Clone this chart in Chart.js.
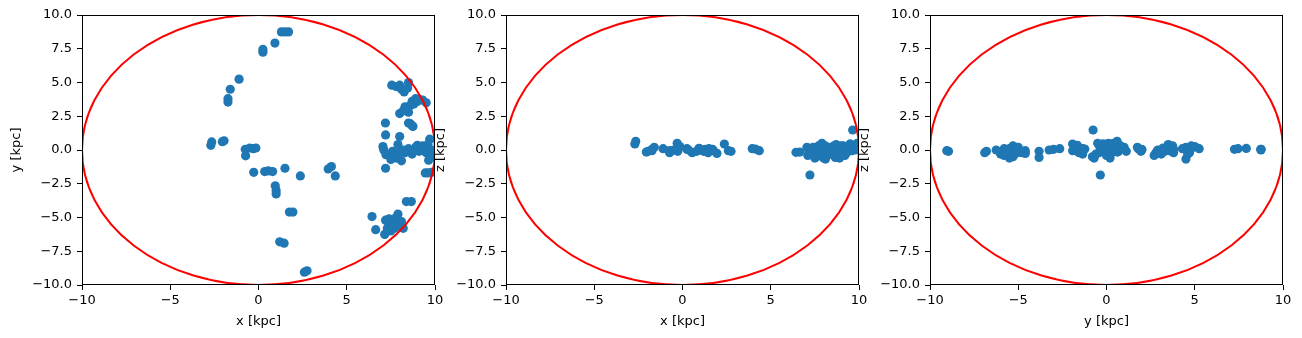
<!DOCTYPE html>
<html>
<head>
<meta charset="utf-8">
<script src="https://cdn.jsdelivr.net/npm/chart.js@4.4.0/dist/chart.umd.min.js"></script>
<style>
body { margin: 0; background: #fff; }
#fig { position: relative; width: 1302px; height: 338px; overflow: hidden; background: #fff; }
#fig canvas { position: absolute; top: 0; }
</style>
</head>
<body>
<div id="fig">
  <canvas id="c1" width="450" height="338" style="left:0px"></canvas>
  <canvas id="c2" width="456" height="338" style="left:424px"></canvas>
  <canvas id="c3" width="454" height="338" style="left:848px"></canvas>
</div>
<script>
// positions of the stars, kpc
var starX = [1.3, 1.5, 1.7, 0.93, 0.25, 0.25, -1.1, -1.6, -1.73, -1.73,
  -2.7, -2.65, -1.95, -2.05, -0.75, -0.5, -0.3, -0.15, -0.73, -0.27,
  0.35, 0.55, 0.8, 1.5, 2.37, 0.95, 1.0, 1.0, 1.75, 1.95,
  1.2, 1.45, 2.6, 2.75, 4.13, 3.95, 4.35, 6.43, 6.64, 7.2,
  7.4, 7.6, 7.8, 7.9, 8.0, 8.2, 7.5, 7.15, 7.7, 8.1,
  7.3, 8.38, 8.66, 7.19, 7.2, 8.0, 7.55, 7.8, 8.0, 8.1,
  8.25, 8.5, 8.45, 8.7, 8.9, 9.1, 9.5, 8.6, 8.0, 8.3,
  8.5, 8.5, 8.7, 7.05, 7.1, 7.22, 7.5, 7.7, 7.9, 8.1,
  8.3, 8.5, 8.7, 8.9, 9.1, 9.3, 9.5, 9.7, 9.8, 9.9,
  9.64, 9.2, 7.2, 9.45, 9.6, 9.8, 7.6,
  8.8, 9.3, 8.2, 8.4, 8.6, 8.75, 9.0, 8.2, 8.8, 9.4,
  9.6, 9.0, 7.8, 8.0, 7.6, 7.9, 7.4, 8.1];
var starY = [8.75, 8.75, 8.75, 7.92, 7.25, 7.45, 5.25, 4.5, 3.55, 3.8,
  0.35, 0.6, 0.68, 0.62, 0.05, 0.15, 0.1, 0.15, -0.43, -1.65,
  -1.6, -1.55, -1.6, -1.35, -1.92, -2.65, -3.0, -3.25, -4.6, -4.6,
  -6.8, -6.9, -9.05, -8.95, -1.23, -1.4, -1.92, -4.93, -5.9, -5.2,
  -5.5, -5.3, -5.0, -4.75, -5.5, -5.8, -6.0, -6.25, -5.8, -5.3,
  -5.8, -3.82, -3.82, 2.0, 1.12, 1.0, 4.8, 4.7, 4.8, 4.5,
  4.3, 5.0, 4.6, 3.6, 3.8, 3.75, 3.5, 3.3, 2.7, 3.2,
  2.8, 2.0, 1.8, 0.25, 0.0, -0.35, -0.7, -0.4, 0.4, -0.8,
  -0.2, 0.1, -0.3, 0.2, -0.1, 0.3, -0.2, 0.8, 0.0, -0.5,
  -0.76, 0.1, -1.35, -1.7, -1.7, -1.65, -0.1,
  3.4, 3.7, 2.9, 3.1, 1.95, 1.75, 3.6, 0.0, -0.1, 0.0,
  0.4, 0.35, -0.6, -0.2, -5.6, -5.2, -5.1, -5.7];
var starZ = [0.05, 0.0, 0.05, 0.12, 0.05, 0.1, 0.1, 0.2, -0.05, 0.05,
  0.45, 0.65, -0.1, -0.15, -0.05, 0.0, 0.5, 0.25, -0.2, -0.1,
  0.0, -0.2, -0.1, 0.1, 0.44, 0.1, 0.05, 0.0, -0.05, -0.25,
  -0.1, -0.2, -0.05, -0.1, 0.07, 0.1, -0.05, -0.17, -0.15, -0.3,
  0.1, -0.5, 0.2, -0.2, -0.6, 0.1, -0.3, 0.0, -0.4, 0.3,
  -0.1, -0.1, -0.55, 0.05, -0.1, 0.2, 0.1, -0.2, 0.3, -0.67,
  0.1, 0.25, -0.3, 0.2, -0.2, 0.3, 0.4, -0.1, -0.4, 0.15,
  -0.2, 0.0, 0.1, 0.2, -0.4, -1.85, -0.6, 0.3, 0.5, -0.5,
  0.1, -0.3, 0.4, -0.6, 0.2, -0.2, 0.45, 0.3, 0.0, 0.5,
  1.48, -0.4, -0.3, 0.2, -0.05, 0.35, -0.2,
  0.0, -0.1, 0.0, -0.3, -0.1, 0.2, 0.1, 0.2, 0.0, -0.1,
  0.1, 0.3, -0.3, 0.0, 0.0, -0.1, 0.2, -0.2];

var ringRadius = 10; // red circle, kpc

var xTickValues = [-10, -5, 0, 5, 10];
var xTickLabels = ['\u221210', '\u22125', '0', '5', '10'];
var yTickValues = [-10, -7.5, -5, -2.5, 0, 2.5, 5, 7.5, 10];
var yTickLabels = ['\u221210.0', '\u22127.5', '\u22125.0', '\u22122.5', '0.0', '2.5', '5.0', '7.5', '10.0'];

var panels = [
  { id: 'c1', h: starX, v: starY, hTitle: 'x [kpc]', vTitle: 'y [kpc]', left: 0, width: 450, right: 435 },
  { id: 'c2', h: starX, v: starZ, hTitle: 'x [kpc]', vTitle: 'z [kpc]', left: 424, width: 456, right: 859 },
  { id: 'c3', h: starY, v: starZ, hTitle: 'y [kpc]', vTitle: 'z [kpc]', left: 848, width: 454, right: 1283 }
];

var font = { family: 'DejaVu Sans', size: 13 };
Chart.defaults.color = '#000';

// circle + frame drawn on top of the points
var ringPlugin = {
  id: 'ring',
  afterDatasetsDraw: function(chart) {
    var ctx = chart.ctx, a = chart.chartArea, sx = chart.scales.x, sy = chart.scales.y;
    var cx = sx.getPixelForValue(0), cy = sy.getPixelForValue(0);
    var rx = sx.getPixelForValue(ringRadius) - cx;
    var ry = cy - sy.getPixelForValue(ringRadius);
    ctx.save();
    ctx.beginPath();
    ctx.rect(a.left, a.top, a.right - a.left, a.bottom - a.top);
    ctx.clip();
    ctx.beginPath();
    ctx.ellipse(cx, cy, rx, ry, 0, 0, 2 * Math.PI);
    ctx.strokeStyle = '#ff0000';
    ctx.lineWidth = 2;
    ctx.stroke();
    ctx.restore();

    ctx.save();
    ctx.strokeStyle = '#000';
    ctx.lineWidth = 1;
    ctx.strokeRect(Math.round(a.left) + 0.5, Math.round(a.top) + 0.5,
      Math.round(a.right - a.left) - 1, Math.round(a.bottom - a.top) - 1);
    ctx.restore();
  }
};

function makeChart(p) {
  var pts = p.h.map(function(val, i) { return { x: val, y: p.v[i] }; });
  var areaLeft = 82;
  new Chart(document.getElementById(p.id), {
    type: 'scatter',
    data: {
      datasets: [{
        data: pts,
        backgroundColor: '#1f77b4',
        borderWidth: 0,
        pointRadius: 4.6,
        pointHoverRadius: 4.6
      }]
    },
    options: {
      responsive: false,
      animation: false,
      events: [],
      layout: { padding: { left: 0, right: p.width - (p.right - p.left), top: 15, bottom: 0 } },
      plugins: { legend: { display: false }, tooltip: { enabled: false } },
      scales: {
        x: {
          type: 'linear', min: -10, max: 10,
          border: { display: false },
          grid: { drawOnChartArea: false, drawTicks: true, tickLength: 5, color: '#000', lineWidth: 1 },
          afterBuildTicks: function(s) { s.ticks = xTickValues.map(function(v) { return { value: v }; }); },
          afterFit: function(s) { s.height = 53; s.paddingLeft = 0; s.paddingRight = 0; },
          ticks: {
            font: font, padding: 3, maxRotation: 0, autoSkip: false,
            callback: function(v, i) { return xTickLabels[i]; }
          },
          title: { display: true, text: p.hTitle, font: font, padding: { top: 0, bottom: 9 } }
        },
        y: {
          type: 'linear', min: -10, max: 10,
          border: { display: false },
          grid: { drawOnChartArea: false, drawTicks: true, tickLength: 5, color: '#000', lineWidth: 1 },
          afterBuildTicks: function(s) { s.ticks = yTickValues.map(function(v) { return { value: v }; }); },
          afterFit: function(s) { s.width = areaLeft; s.paddingTop = 0; s.paddingBottom = 0; },
          ticks: {
            font: font, padding: 5, autoSkip: false,
            callback: function(v, i) { return yTickLabels[i]; }
          },
          title: { display: true, text: p.vTitle, font: font, padding: { top: 8.5, bottom: 0 } }
        }
      }
    },
    plugins: [ringPlugin]
  });
}

panels.forEach(makeChart);
</script>
</body>
</html>
